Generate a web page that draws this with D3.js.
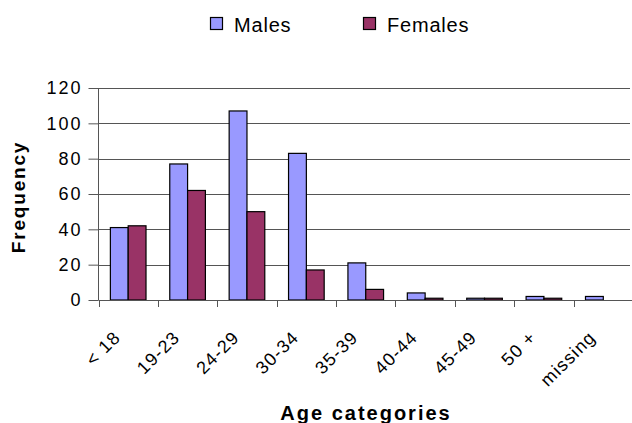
<!DOCTYPE html>
<html><head><meta charset="utf-8">
<script src="https://cdn.jsdelivr.net/npm/d3@7/dist/d3.min.js"></script>
<style>body{margin:0;background:#fff}svg{display:block;font-family:"Liberation Sans",Arial,sans-serif}</style>
</head><body>
<script>
const categories = ["< 18","19-23","24-29","30-34","35-39","40-44","45-49","50 +","missing"];
const males   = [41,77,107,83,21,4,1,2,2];
const females = [42,62,50,17,6,1,1,1,0];
const yTicks  = [0,20,40,60,80,100,120];
const seriesNames = ["Males","Females"];
const colors = ["#9999FF","#993366"];

const W=632,H=423;
const svg=d3.select("body").append("svg").attr("width",W).attr("height",H);
const x=d3.scaleBand().domain(categories).range([98.5,633]).paddingInner(0).paddingOuter(0);
const y=d3.scaleLinear().domain([0,120]).range([300,88]);

// gridlines
svg.append("g").selectAll("line").data(yTicks.slice(1)).join("line")
  .attr("x1",98.5).attr("x2",630).attr("y1",d=>Math.round(y(d))+0.5).attr("y2",d=>Math.round(y(d))+0.5)
  .attr("stroke","#555").attr("stroke-width",1);

// bars
const step=x.bandwidth(), bw=step*0.3, off=step*0.2;
const data=[males,females];
data.forEach((arr,si)=>{
  svg.append("g").selectAll("rect").data(arr.map((v,i)=>({v,c:categories[i]}))).join("rect")
    .filter(d=>d.v>0)
    .attr("x",d=>x(d.c)+off+si*bw).attr("width",bw)
    .attr("y",d=>y(d.v)).attr("height",d=>y(0)-y(d.v))
    .attr("fill",colors[si]).attr("stroke","#000").attr("stroke-width",1.2);
});

// y axis
const ya=svg.append("g").attr("transform","translate(98.5,0)")
  .call(d3.axisLeft(y).tickValues(yTicks).tickSize(10).tickPadding(6));
ya.select(".domain").attr("stroke","#555").attr("d","M0,"+y(120)+"V"+(y(0)));
ya.selectAll(".tick line").attr("stroke","#555");
ya.selectAll("text").attr("font-size",18).attr("letter-spacing","2px").attr("fill","#000")
  .attr("font-family","Liberation Sans, Arial, sans-serif");

// x axis
const xa=svg.append("g").attr("transform","translate(0,300.5)")
  .call(d3.axisBottom(x).tickSize(0).tickFormat(""));
xa.select(".domain").attr("stroke","#555").attr("d","M98.5,0H632");
svg.append("g").selectAll("line").data(categories).join("line")
  .attr("x1",d=>Math.round(x(d))+0.5).attr("x2",d=>Math.round(x(d))+0.5)
  .attr("y1",300).attr("y2",307).attr("stroke","#555");
svg.append("g").selectAll("text").data(categories).join("text")
  .attr("transform",d=>`translate(${x(d)+step/2-11},${334}) rotate(-45)`)
  .attr("text-anchor","end").attr("font-size",18).attr("letter-spacing","1.2px").attr("dy","0.35em").text(d=>d);

// axis titles
svg.append("text").attr("x",366).attr("y",420).attr("text-anchor","middle")
  .attr("font-size",20).attr("letter-spacing","2px").attr("font-weight","bold").text("Age categories");
svg.append("text").attr("transform","translate(25,197) rotate(-90)").attr("text-anchor","middle")
  .attr("font-size",19).attr("letter-spacing","1.8px").attr("font-weight","bold").text("Frequency");

// legend
const lx=[210,363];
seriesNames.forEach((n,i)=>{
  svg.append("rect").attr("x",lx[i]+0.5).attr("y",17.5).attr("width",12).attr("height",12)
    .attr("fill",colors[i]).attr("stroke","#000").attr("stroke-width",1.2);
  svg.append("text").attr("x",lx[i]+24).attr("y",31.5).attr("font-size",20).attr("letter-spacing","0.8px").text(n);
});
</script>
</body></html>
